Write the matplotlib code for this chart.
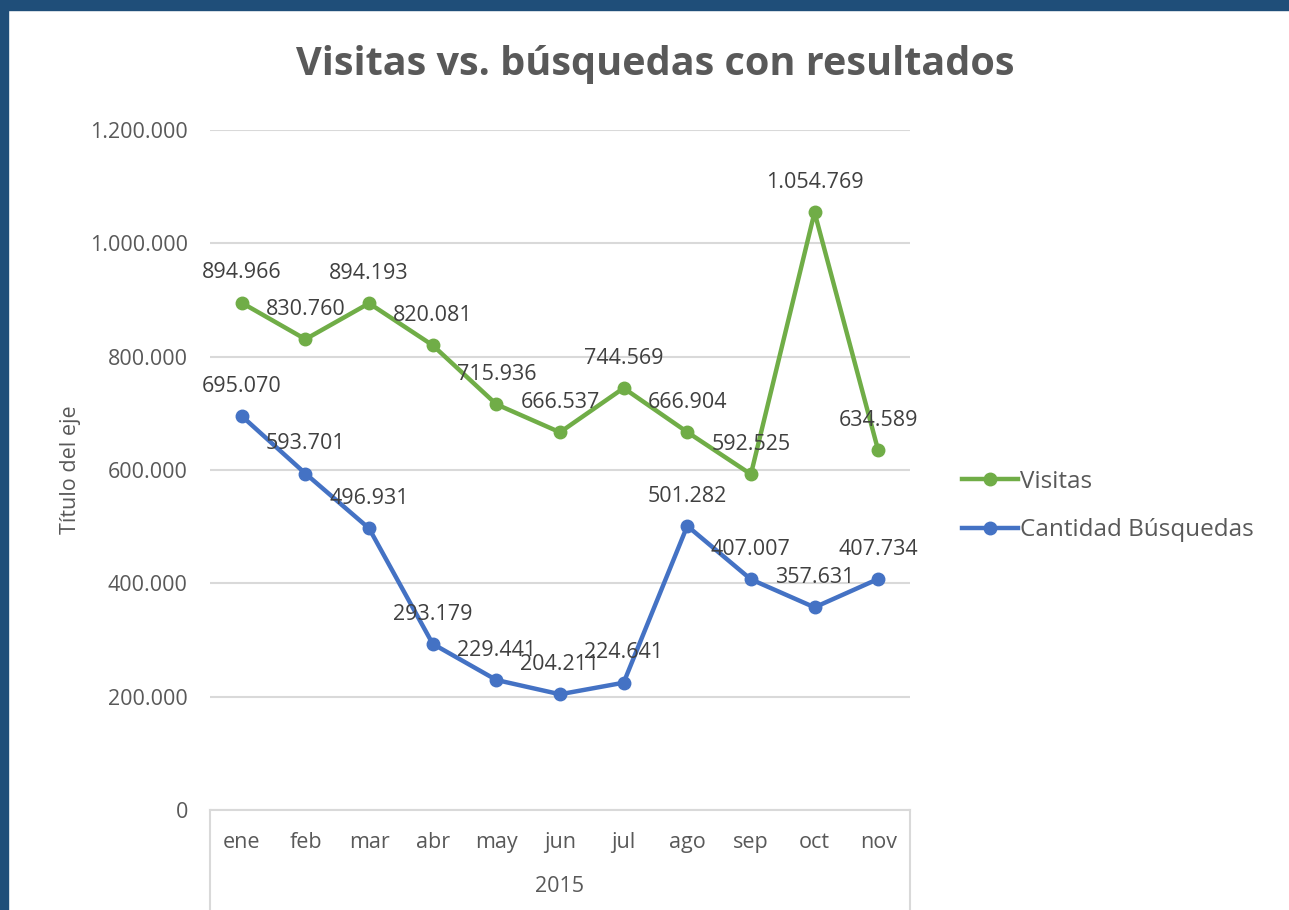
import matplotlib
matplotlib.use("Agg")
import matplotlib.pyplot as plt
from matplotlib.lines import Line2D
from matplotlib.patches import Rectangle

plt.rcParams['font.family'] = ['Open Sans', 'DejaVu Sans']

meses = ["ene", "feb", "mar", "abr", "may", "jun", "jul", "ago", "sep", "oct", "nov"]
anio = "2015"
visitas = [894966, 830760, 894193, 820081, 715936, 666537, 744569, 666904, 592525, 1054769, 634589]
busquedas = [695070, 593701, 496931, 293179, 229441, 204211, 224641, 501282, 407007, 357631, 407734]
y_ticks = [0, 200000, 400000, 600000, 800000, 1000000, 1200000]

verde = "#70AD47"
azul = "#4472C4"
gris = "#595959"
rejilla = "#D9D9D9"


def fmt(v):
    return "{:,}".format(v).replace(",", ".")


fig = plt.figure(figsize=(12.89, 9.10), dpi=100)
# marco azul oscuro arriba e izquierda
fig.patches.append(Rectangle((0, 1 - 10 / 910), 1, 10 / 910, transform=fig.transFigure,
                             color="#1F4E79", zorder=0))
fig.patches.append(Rectangle((0, 0), 8 / 1289, 1, transform=fig.transFigure,
                             color="#1F4E79", zorder=0))

ax = fig.add_axes([210 / 1289, 100 / 910, 700 / 1289, 680 / 910])
x = list(range(len(meses)))

ax.plot(x, visitas, color=verde, lw=3.2, marker="o", ms=9, label="Visitas", zorder=3)
ax.plot(x, busquedas, color=azul, lw=3.2, marker="o", ms=9, label="Cantidad Búsquedas", zorder=3)

for xi, v in zip(x, visitas):
    ax.annotate(fmt(v), (xi, v), xytext=(0, 21.5), textcoords="offset points",
                ha="center", va="center", fontsize=15.5, color="#404040", zorder=4)
for xi, v in zip(x, busquedas):
    ax.annotate(fmt(v), (xi, v), xytext=(0, 21.5), textcoords="offset points",
                ha="center", va="center", fontsize=15.5, color="#404040", zorder=4)

ax.set_xlim(-0.5, len(meses) - 0.5)
ax.set_ylim(0, 1200000)
ax.set_yticks(y_ticks)
ax.set_yticklabels([fmt(t) for t in y_ticks])
ax.tick_params(axis="y", length=0, pad=16, labelsize=15.5, labelcolor=gris)
ax.set_xticks(x)
ax.set_xticklabels(meses)
ax.tick_params(axis="x", length=0, pad=16, labelsize=15.5, labelcolor=gris)
ax.grid(axis="y", color=rejilla, lw=1.5)
ax.set_axisbelow(True)
for s in ["left", "right", "top"]:
    ax.spines[s].set_visible(False)
ax.spines["bottom"].set_color(rejilla)
ax.spines["bottom"].set_linewidth(1.5)

ax.set_ylabel("Título del eje", fontsize=15.5, color=gris, labelpad=6)

# segundo nivel de categorías
ax.text(0.5, -0.113, anio, transform=ax.transAxes, ha="center", va="center",
        fontsize=15.5, color=gris)
for xa in [0, 1]:
    ax.add_line(Line2D([xa, xa], [0, -0.15], transform=ax.transAxes, color=rejilla,
                       lw=1.5, clip_on=False))

fig.text(655 / 1289, 1 - 65 / 910, "Visitas vs. búsquedas con resultados",
         ha="center", va="center", fontsize=28.5, fontweight="bold", color=gris)

fig.legend(loc="center left", bbox_to_anchor=(940 / 1289, 1 - 506 / 910), frameon=False,
           fontsize=17.5, labelcolor=gris, handlelength=2.3, handletextpad=0.1,
           labelspacing=1.0)

fig.savefig("out.png", dpi=100, facecolor="white")
